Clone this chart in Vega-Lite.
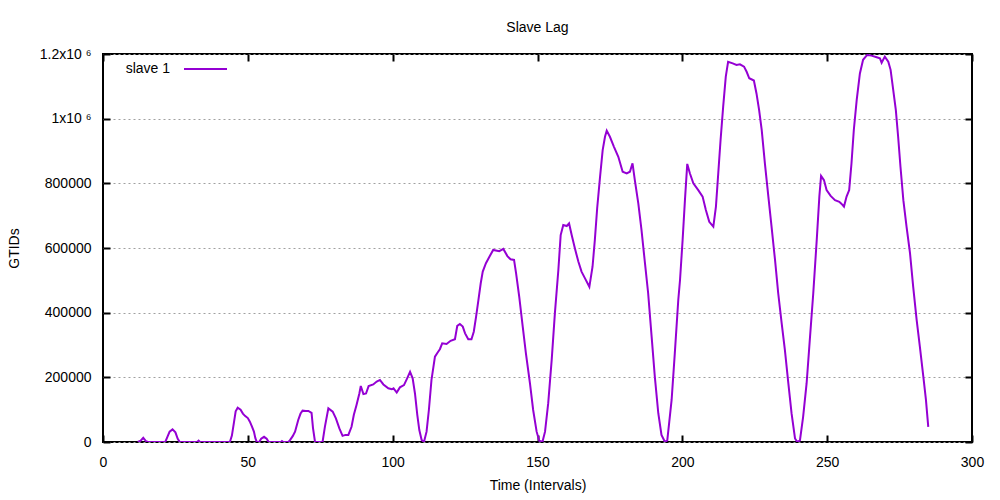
{
  "$schema": "https://vega.github.io/schema/vega-lite/v6.json",
  "width": 869,
  "height": 388,
  "autosize": {"type": "none"},
  "padding": {"left": 103, "top": 54, "right": 28, "bottom": 58},
  "background": "white",
  "title": {"text": "Slave Lag", "fontSize": 14, "font": "Liberation Sans", "fontWeight": "normal", "offset": 12, "color": "black"},
  "config": {
    "view": {"stroke": "black", "strokeWidth": 2},
    "font": "Liberation Sans",
    "axis": {
      "domain": false,
      "tickColor": "black",
      "tickWidth": 2,
      "tickSize": -7,
      "labelFlush": false,
      "labelFont": "Liberation Sans",
      "labelFontSize": 14,
      "labelColor": "black",
      "titleFont": "Liberation Sans",
      "titleFontSize": 14,
      "titleFontWeight": "normal",
      "titleColor": "black"
    }
  },
  "data": {
    "values": [
      {"t": 12, "v": 0}, {"t": 13, "v": 4000}, {"t": 13.9, "v": 13000}, {"t": 14.8, "v": 3000}, {"t": 15.5, "v": 0},
      {"t": 21.5, "v": 0}, {"t": 22.2, "v": 15000}, {"t": 23, "v": 32000}, {"t": 24, "v": 39000}, {"t": 25, "v": 30000}, {"t": 25.8, "v": 10000}, {"t": 26.5, "v": 0},
      {"t": 32.5, "v": 0}, {"t": 33, "v": 4000}, {"t": 33.5, "v": 0},
      {"t": 43.8, "v": 0}, {"t": 44.5, "v": 20000}, {"t": 45.2, "v": 60000}, {"t": 45.8, "v": 95000}, {"t": 46.5, "v": 106000}, {"t": 47.5, "v": 100000}, {"t": 48.3, "v": 88000}, {"t": 49, "v": 81000}, {"t": 50, "v": 74000}, {"t": 50.7, "v": 63000}, {"t": 51.4, "v": 48000}, {"t": 52.1, "v": 32000}, {"t": 52.6, "v": 12000}, {"t": 53.1, "v": 0},
      {"t": 53.9, "v": 0}, {"t": 54.6, "v": 10000}, {"t": 55.6, "v": 16000}, {"t": 56.5, "v": 10000}, {"t": 57.2, "v": 0},
      {"t": 61.5, "v": 0}, {"t": 61.8, "v": 3000}, {"t": 62.2, "v": 0},
      {"t": 64, "v": 0}, {"t": 64.5, "v": 5000}, {"t": 65.5, "v": 18000}, {"t": 66.3, "v": 32000}, {"t": 67.4, "v": 68000}, {"t": 68.2, "v": 88000}, {"t": 68.9, "v": 97000}, {"t": 70, "v": 96000}, {"t": 70.9, "v": 96000}, {"t": 72, "v": 90000}, {"t": 72.5, "v": 43000}, {"t": 73.2, "v": 0},
      {"t": 75.8, "v": 0}, {"t": 76.6, "v": 47000}, {"t": 77.8, "v": 104000}, {"t": 79.3, "v": 94000}, {"t": 80.4, "v": 73000}, {"t": 81.6, "v": 42000}, {"t": 82.7, "v": 19000}, {"t": 83.7, "v": 22000}, {"t": 84.7, "v": 22000}, {"t": 85.8, "v": 47000}, {"t": 86.6, "v": 84000}, {"t": 87.5, "v": 114000}, {"t": 88.5, "v": 150000}, {"t": 89, "v": 173000}, {"t": 89.9, "v": 148000}, {"t": 90.8, "v": 150000}, {"t": 91.7, "v": 173000}, {"t": 93.3, "v": 178000}, {"t": 94.5, "v": 187000}, {"t": 95.6, "v": 192000}, {"t": 96.8, "v": 178000}, {"t": 98.5, "v": 166000}, {"t": 99.7, "v": 163000}, {"t": 100.3, "v": 166000}, {"t": 101.4, "v": 153000}, {"t": 102.5, "v": 169000}, {"t": 103.9, "v": 176000}, {"t": 105, "v": 197000}, {"t": 106, "v": 217000}, {"t": 106.9, "v": 197000}, {"t": 107.7, "v": 150000}, {"t": 108.5, "v": 84000}, {"t": 109.2, "v": 37000}, {"t": 110, "v": 6000}, {"t": 110.8, "v": 0},
      {"t": 111.7, "v": 32000}, {"t": 112.5, "v": 99000}, {"t": 113.4, "v": 192000}, {"t": 114.6, "v": 264000}, {"t": 115.7, "v": 279000}, {"t": 116.3, "v": 287000}, {"t": 117.1, "v": 305000}, {"t": 118.6, "v": 303000}, {"t": 120, "v": 313000}, {"t": 121.5, "v": 318000}, {"t": 122.3, "v": 359000}, {"t": 123.2, "v": 365000}, {"t": 124.2, "v": 357000}, {"t": 125, "v": 336000}, {"t": 126.1, "v": 318000}, {"t": 127.2, "v": 318000}, {"t": 128, "v": 341000}, {"t": 128.8, "v": 388000}, {"t": 129.6, "v": 439000}, {"t": 130.4, "v": 491000}, {"t": 131.1, "v": 527000}, {"t": 132.2, "v": 553000}, {"t": 133.4, "v": 573000}, {"t": 134.7, "v": 594000}, {"t": 136.8, "v": 590000}, {"t": 138.2, "v": 597000}, {"t": 139.6, "v": 575000}, {"t": 140.7, "v": 565000}, {"t": 141.9, "v": 563000}, {"t": 142.6, "v": 522000}, {"t": 143.7, "v": 449000}, {"t": 144.9, "v": 357000}, {"t": 146, "v": 274000}, {"t": 147.4, "v": 181000}, {"t": 148.5, "v": 99000}, {"t": 149.7, "v": 32000}, {"t": 150.6, "v": 4000}, {"t": 151.7, "v": 0},
      {"t": 152.6, "v": 32000}, {"t": 153.7, "v": 120000}, {"t": 154.9, "v": 254000}, {"t": 156, "v": 398000}, {"t": 157.2, "v": 532000}, {"t": 158, "v": 640000}, {"t": 158.9, "v": 671000}, {"t": 160.1, "v": 668000}, {"t": 160.9, "v": 676000}, {"t": 161.8, "v": 640000}, {"t": 162.9, "v": 599000}, {"t": 164.1, "v": 558000}, {"t": 165.2, "v": 527000}, {"t": 166.4, "v": 506000}, {"t": 167.9, "v": 480000}, {"t": 169, "v": 542000}, {"t": 169.8, "v": 625000}, {"t": 170.6, "v": 723000}, {"t": 171.6, "v": 821000}, {"t": 172.5, "v": 903000}, {"t": 173.3, "v": 944000}, {"t": 173.9, "v": 963000}, {"t": 175, "v": 944000}, {"t": 176.4, "v": 913000}, {"t": 177.9, "v": 882000}, {"t": 179.4, "v": 836000}, {"t": 180.8, "v": 831000}, {"t": 181.9, "v": 836000}, {"t": 182.8, "v": 862000}, {"t": 183.6, "v": 810000}, {"t": 184.8, "v": 738000}, {"t": 185.9, "v": 656000}, {"t": 187.1, "v": 553000}, {"t": 188.2, "v": 460000}, {"t": 189.4, "v": 326000}, {"t": 190.5, "v": 202000}, {"t": 191.7, "v": 89000}, {"t": 192.8, "v": 22000}, {"t": 194, "v": 0},
      {"t": 194.8, "v": 5000}, {"t": 195.5, "v": 63000}, {"t": 196.3, "v": 130000}, {"t": 197.4, "v": 274000}, {"t": 198.6, "v": 439000}, {"t": 199.2, "v": 501000}, {"t": 200.1, "v": 625000}, {"t": 200.9, "v": 748000}, {"t": 201.7, "v": 860000}, {"t": 202.6, "v": 831000}, {"t": 203.8, "v": 800000}, {"t": 205.5, "v": 779000}, {"t": 207, "v": 759000}, {"t": 208.1, "v": 718000}, {"t": 209.3, "v": 681000}, {"t": 210.7, "v": 666000}, {"t": 211.6, "v": 728000}, {"t": 212.4, "v": 831000}, {"t": 213.2, "v": 934000}, {"t": 214.1, "v": 1037000}, {"t": 215, "v": 1130000}, {"t": 215.8, "v": 1176000}, {"t": 217.4, "v": 1171000}, {"t": 218.7, "v": 1166000}, {"t": 219.9, "v": 1168000}, {"t": 221.3, "v": 1161000}, {"t": 222.2, "v": 1145000}, {"t": 223.1, "v": 1125000}, {"t": 224.7, "v": 1118000}, {"t": 225.6, "v": 1078000}, {"t": 226.5, "v": 1027000}, {"t": 227.4, "v": 965000}, {"t": 228.5, "v": 862000}, {"t": 229.7, "v": 759000}, {"t": 230.8, "v": 666000}, {"t": 232, "v": 563000}, {"t": 233.1, "v": 460000}, {"t": 234.3, "v": 367000}, {"t": 235.4, "v": 285000}, {"t": 236.6, "v": 181000}, {"t": 237.7, "v": 89000}, {"t": 238.9, "v": 11000}, {"t": 239.7, "v": 0},
      {"t": 240.6, "v": 5000}, {"t": 241.7, "v": 78000}, {"t": 242.9, "v": 181000}, {"t": 244, "v": 315000}, {"t": 245.2, "v": 460000}, {"t": 246.4, "v": 625000}, {"t": 247.3, "v": 759000}, {"t": 247.9, "v": 823000}, {"t": 248.9, "v": 810000}, {"t": 249.8, "v": 779000}, {"t": 251.2, "v": 761000}, {"t": 252.7, "v": 748000}, {"t": 254.2, "v": 743000}, {"t": 254.9, "v": 737000}, {"t": 255.8, "v": 728000}, {"t": 256.7, "v": 759000}, {"t": 257.6, "v": 779000}, {"t": 258.4, "v": 862000}, {"t": 259.2, "v": 965000}, {"t": 260.2, "v": 1058000}, {"t": 261.3, "v": 1140000}, {"t": 262.4, "v": 1182000}, {"t": 263.8, "v": 1197000}, {"t": 265.3, "v": 1195000}, {"t": 267.1, "v": 1190000}, {"t": 268.2, "v": 1187000}, {"t": 268.8, "v": 1173000}, {"t": 269.9, "v": 1192000}, {"t": 271.1, "v": 1176000}, {"t": 271.9, "v": 1151000}, {"t": 272.8, "v": 1089000}, {"t": 273.7, "v": 1027000}, {"t": 274.5, "v": 944000}, {"t": 275.3, "v": 852000}, {"t": 276.3, "v": 748000}, {"t": 277.4, "v": 666000}, {"t": 278.6, "v": 584000}, {"t": 279.7, "v": 480000}, {"t": 280.9, "v": 377000}, {"t": 282, "v": 295000}, {"t": 283.2, "v": 202000}, {"t": 284.1, "v": 130000}, {"t": 284.9, "v": 47000}
    ]
  },
  "layer": [
    {
      "mark": {"type": "line", "strokeWidth": 2, "clip": true},
      "encoding": {
        "x": {
          "field": "t", "type": "quantitative",
          "scale": {"domain": [0, 300], "nice": false, "zero": false},
          "axis": {
            "orient": "bottom", "values": [0, 50, 100, 150, 200, 250, 300],
            "title": "Time (Intervals)", "grid": false, "labelPadding": 20,
            "titleY": 43, "titleBaseline": "middle"
          }
        },
        "y": {
          "field": "v", "type": "quantitative",
          "scale": {"domain": [0, 1200000], "nice": false},
          "axis": {
            "orient": "left",
            "values": [0, 200000, 400000, 600000, 800000, 1000000, 1200000],
            "labelExpr": "datum.value == 1000000 ? '1x10 ⁶' : (datum.value == 1200000 ? '1.2x10 ⁶' : format(datum.value, 'd'))",
            "title": "GTIDs", "labelPadding": 19,
            "grid": true, "gridColor": "#a0a0a0", "gridDash": [2, 3], "gridWidth": 1,
            "titleX": -89, "titleY": 194, "titleBaseline": "middle", "titleAngle": -90
          }
        },
        "color": {
          "datum": "slave 1", "type": "nominal",
          "scale": {"range": ["#9400d3"]},
          "legend": {
            "title": null, "orient": "none", "legendX": 80, "legendY": -7.5,
            "symbolType": "stroke", "symbolSize": 1849, "symbolStrokeWidth": 2,
            "labelAlign": "right", "labelOffset": -58, "labelFontSize": 14,
            "labelFont": "Liberation Sans", "labelColor": "black", "padding": 0
          }
        }
      }
    },
    {
      "mark": {"type": "line", "opacity": 0},
      "encoding": {
        "x": {
          "field": "t", "type": "quantitative",
          "axis": {"orient": "top", "values": [0, 50, 100, 150, 200, 250, 300], "labels": false, "title": null, "grid": false}
        },
        "y": {
          "field": "v", "type": "quantitative",
          "axis": {"orient": "right", "values": [0, 200000, 400000, 600000, 800000, 1000000, 1200000], "labels": false, "title": null, "grid": false}
        }
      }
    }
  ],
  "resolve": {"axis": {"x": "independent", "y": "independent"}}
}
